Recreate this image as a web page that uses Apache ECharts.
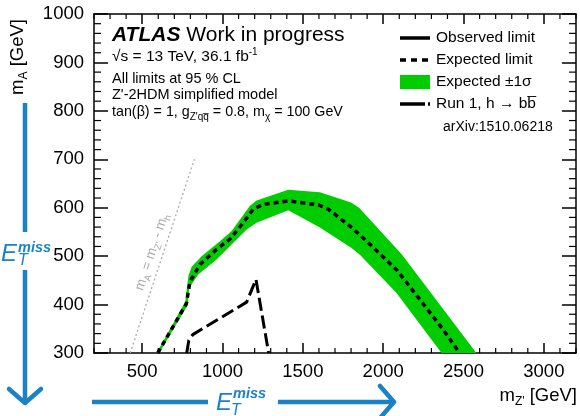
<!DOCTYPE html>
<html><head><meta charset="utf-8">
<script src="https://cdn.jsdelivr.net/npm/echarts@6/dist/echarts.min.js"></script>
<style>html,body{margin:0;padding:0;background:#fff}#c{width:580px;height:416px}</style>
</head><body><div id="c"></div>
<script>
// ---- data ----
const xTickLabels = [500, 1000, 1500, 2000, 2500, 3000];
const yTickLabels = [300, 400, 500, 600, 700, 800, 900, 1000];

const expX = [597, 775, 797, 860, 963, 1046, 1129, 1191, 1253, 1409, 1596, 1658, 1793, 1897, 2083, 2229, 2374, 2475];
const expY = [300, 402, 447, 483, 514, 535, 569, 597, 607, 614, 606, 597, 562, 531, 472, 410, 348, 300];

const bandUpX = [590, 768, 788, 808, 870, 984, 1057, 1171, 1212, 1409, 1606, 1800, 1850, 2115, 2580];
const bandUpY = [300, 406, 460, 478, 500, 531, 552, 604, 615, 637, 632, 611, 600, 504, 300];
const bandLoX = [606, 782, 792, 803, 849, 963, 1150, 1212, 1409, 1606, 1803, 1855, 2083, 2363];
const bandLoY = [300, 398, 432, 440, 462, 493, 555, 569, 595, 559, 517, 503, 424, 300];

const run1X = [777, 790, 815, 1150, 1208, 1287];
const run1Y = [300, 326, 338, 405, 452, 300];

const diagX = [425, 825];
const diagY = [300, 700];

const legendNames = ['Observed limit', 'Expected limit', 'Expected \u00B11\u03C3', 'Run 1, h \u2192 bb\u0305'];

const X_MIN = 200, X_MAX = 3200, X_MINOR = 100;
const Y_MIN = 300, Y_MAX = 1000, Y_MINOR = 20;

const BLUE = '#1b82c6';
const FF = 'Liberation Sans, Arial, sans-serif';
const GREEN = '#00cc00';

const zip = (a, b) => a.map((v, i) => [v, b[i]]);
// closed band outline: upper edge left->right, then lower edge right->left
const bandOutline = zip(bandUpX, bandUpY).concat(zip(bandLoX, bandLoY).reverse());

const chart = echarts.init(document.getElementById('c'), null, {renderer: 'canvas'});

const G = {left: 94, right: 4, top: 14, bottom: 63};

const xAxisDef = (pos, labels) => ({
  type: 'value', position: pos, min: X_MIN, max: X_MAX,
  axisLine: {show: true, onZero: false, lineStyle: {color: '#000', width: 1.5}},
  splitLine: {show: false},
  axisTick: {show: true, inside: true, length: 10, customValues: xTickLabels, lineStyle: {color: '#000', width: 1.5}},
  axisLabel: {show: labels, customValues: xTickLabels, formatter: v => String(v), color: '#000', fontSize: 18.5, fontFamily: FF, margin: 9}
});
const yAxisDef = (pos, labels) => ({
  type: 'value', position: pos, min: Y_MIN, max: Y_MAX, interval: 100,
  axisLine: {show: true, onZero: false, lineStyle: {color: '#000', width: 1.5}},
  splitLine: {show: false},
  axisTick: {show: true, inside: true, length: 14, lineStyle: {color: '#000', width: 1.5}},
  axisLabel: {show: labels, formatter: v => String(v), color: '#000', fontSize: 18.5, fontFamily: FF, margin: 10}
});

const sub = (fs, pad) => ({fontSize: fs, fontFamily: FF, padding: [pad, 0, 0, 0]});
const sup = (fs, pad) => ({fontSize: fs, fontFamily: FF, padding: [0, 0, pad, 0]});

function txt(x, y, text, style, extra) {
  return Object.assign({type: 'text', x: x, y: y,
    style: Object.assign({text: text, fill: '#000', fontFamily: FF, align: 'left', verticalAlign: 'middle'}, style)}, extra || {});
}
function ln(x1, y1, x2, y2, style) {
  return {type: 'line', shape: {x1: x1, y1: y1, x2: x2, y2: y2}, style: Object.assign({stroke: '#000', lineWidth: 1.5}, style)};
}

const graphics = [
  txt(112, 35, '{a|ATLAS} {b|Work in progress}', {fontSize: 21, rich: {
    a: {fontSize: 21, fontFamily: FF, fontWeight: 'bold', fontStyle: 'italic'},
    b: {fontSize: 21, fontFamily: FF}}}),
  txt(112, 57, '{n|\u221As = 13 TeV, 36.1 fb}{p|-1}', {fontSize: 15.5, rich: {n: {fontSize: 15.5, fontFamily: FF}, p: sup(10, 9)}}),
  txt(112, 78.5, 'All limits at 95 % CL', {fontSize: 14.5}),
  txt(112, 94.5, "Z'-2HDM simplified model", {fontSize: 14.5}),
  txt(112, 112, "{n|tan(\u03B2) = 1, g}{s|Z'q\u0071\u0305}{n| = 0.8, m}{s|\u03C7}{n| = 100 GeV}", {fontSize: 14.3, rich: {
    n: {fontSize: 14.3, fontFamily: FF}, s: sub(10, 10)}}),
  txt(443, 127, 'arXiv:1510.06218', {fontSize: 14}),
  // legend
  ln(400, 38, 430, 38, {lineWidth: 3.5}),
  txt(436, 38, legendNames[0], {fontSize: 15.5}),
  ln(400, 60, 430, 60, {lineWidth: 3.5, lineDash: [6, 5]}),
  txt(436, 60, legendNames[1], {fontSize: 15.5}),
  {type: 'rect', shape: {x: 400, y: 75, width: 30, height: 14}, style: {fill: GREEN}},
  txt(436, 82, legendNames[2], {fontSize: 15.5}),
  ln(400, 104, 430, 104, {lineWidth: 3.5, lineDash: [25, 3]}),
  txt(436, 104, legendNames[3], {fontSize: 15.5}),
  // axis titles
  txt(18, 57, '{n|m}{s|A}{n| [GeV]}', {align: 'center', fontSize: 18.5, rich: {n: {fontSize: 18.5, fontFamily: FF}, s: sub(12, 12)}}, {rotation: Math.PI / 2}),
  txt(577, 396, "{n|m}{s|Z'}{n| [GeV]}", {align: 'right', fontSize: 18.5, rich: {n: {fontSize: 18.5, fontFamily: FF}, s: sub(12, 12)}}),
  txt(152, 252, "{n|m}{s|A}{n| = m}{s|Z'}{n| - m}{s|h}", {align: 'center', fill: '#aaaaaa', fontSize: 13.5, rich: {
    n: {fontSize: 13.5, fontFamily: FF, color: '#aaaaaa'}, s: {fontSize: 9.5, fontFamily: FF, color: '#aaaaaa', padding: [9, 0, 0, 0]}}},
    {rotation: 1.25}),
  // vertical ETmiss arrow
  ln(25, 103, 25, 232, {stroke: BLUE, lineWidth: 4.5}),
  ln(25, 270, 25, 402, {stroke: BLUE, lineWidth: 4.5}),
  {type: 'polyline', shape: {points: [[9, 389], [25, 403], [41, 389]]}, style: {stroke: BLUE, lineWidth: 4.5, lineCap: 'round', lineJoin: 'round', fill: null}},
  txt(1, 254, 'E', {fill: BLUE, fontSize: 24, fontStyle: 'italic'}),
  txt(18, 248, 'miss', {fill: BLUE, fontSize: 14.5, fontStyle: 'italic', fontWeight: 'bold'}),
  txt(18, 261, 'T', {fill: BLUE, fontSize: 16, fontStyle: 'italic'}),
  // horizontal ETmiss arrow
  ln(92, 402, 208, 402, {stroke: BLUE, lineWidth: 4.5}),
  ln(278, 402, 393, 402, {stroke: BLUE, lineWidth: 4.5}),
  {type: 'polyline', shape: {points: [[380, 386], [394, 402], [380, 418]]}, style: {stroke: BLUE, lineWidth: 4.5, lineCap: 'round', lineJoin: 'round', fill: null}},
  txt(216, 403, 'E', {fill: BLUE, fontSize: 24, fontStyle: 'italic'}),
  txt(233, 394, 'miss', {fill: BLUE, fontSize: 14.5, fontStyle: 'italic', fontWeight: 'bold'}),
  txt(231, 411, 'T', {fill: BLUE, fontSize: 16, fontStyle: 'italic'})
];

const option = {
  animation: false,
  backgroundColor: '#fff',
  grid: [G],
  xAxis: [xAxisDef('bottom', true), xAxisDef('top', false)],
  yAxis: [yAxisDef('left', true), yAxisDef('right', false)],
  series: [
    {
      type: 'line', name: legendNames[2], xAxisIndex: 0, yAxisIndex: 0, z: 1, symbol: 'none',
      data: bandOutline,
      lineStyle: {width: 0, color: GREEN},
      areaStyle: {color: GREEN, opacity: 1}
    },
    {
      type: 'line', name: 'diag', xAxisIndex: 0, yAxisIndex: 0, z: 2, symbol: 'none',
      data: zip(diagX, diagY), lineStyle: {color: '#aaaaaa', width: 1.3, type: [2, 2.5]}
    },
    {
      type: 'line', name: legendNames[3], xAxisIndex: 0, yAxisIndex: 0, z: 3, symbol: 'none',
      data: zip(run1X, run1Y), itemStyle: {color: '#000'}, lineStyle: {color: '#000', width: 3, type: [13, 5]}
    },
    {
      type: 'line', name: legendNames[1], xAxisIndex: 0, yAxisIndex: 0, z: 4, symbol: 'none',
      data: zip(expX, expY), itemStyle: {color: '#000'}, lineStyle: {color: '#000', width: 3.5, type: [5, 4]}
    }
  ],
  graphic: graphics
};
chart.setOption(option);

// minor frame ticks, positioned through the axes' own scales
const P = (x, y) => chart.convertToPixel({xAxisIndex: 0, yAxisIndex: 0}, [x, y]);
const tickEls = [];
const yb = P(X_MIN, Y_MIN)[1], yt = P(X_MIN, Y_MAX)[1];
const xl = P(X_MIN, Y_MIN)[0], xr = P(X_MAX, Y_MIN)[0];
for (let v = X_MIN; v <= X_MAX; v += X_MINOR) {
  if (xTickLabels.indexOf(v) >= 0) continue;
  const x = P(v, Y_MIN)[0];
  tickEls.push(ln(x, yb, x, yb - 5, {lineWidth: 1.2}));
  tickEls.push(ln(x, yt, x, yt + 5, {lineWidth: 1.2}));
}
for (let v = Y_MIN; v <= Y_MAX; v += Y_MINOR) {
  if (yTickLabels.indexOf(v) >= 0) continue;
  const y = P(X_MIN, v)[1];
  tickEls.push(ln(xl, y, xl + 7, y, {lineWidth: 1.2}));
  tickEls.push(ln(xr, y, xr - 7, y, {lineWidth: 1.2}));
}
chart.setOption({graphic: graphics.concat(tickEls)});
</script>
</body></html>
